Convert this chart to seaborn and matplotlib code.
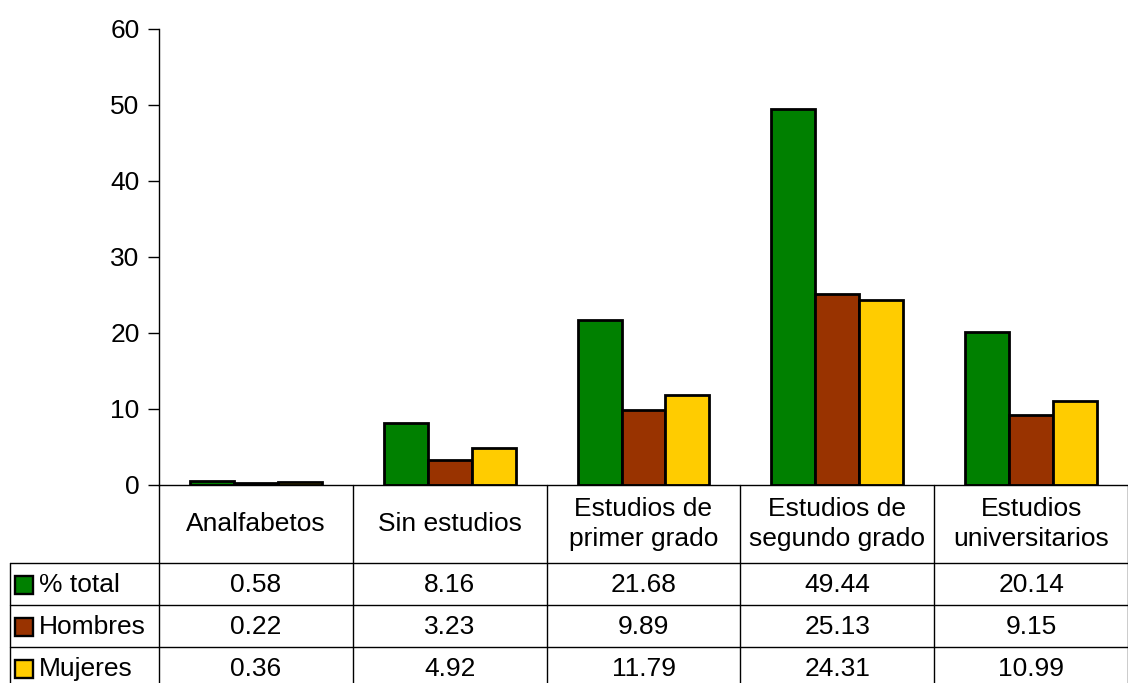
import matplotlib.pyplot as plt
import matplotlib.transforms as mtransforms
from matplotlib.patches import Rectangle
import pandas as pd
import seaborn as sns

# %% Data

CATEGORIES = [
    "Analfabetos",
    "Sin estudios",
    "Estudios de\nprimer grado",
    "Estudios de\nsegundo grado",
    "Estudios\nuniversitarios",
]
SERIES = ["% total", "Hombres", "Mujeres"]
TOTAL = [0.58, 8.16, 21.68, 49.44, 20.14]
HOMBRES = [0.22, 3.23, 9.89, 25.13, 9.15]
MUJERES = [0.36, 4.92, 11.79, 24.31, 10.99]
COLORS = ["#008000", "#993300", "#FFCC00"]

rows = []
for name, vals in zip(SERIES, [TOTAL, HOMBRES, MUJERES]):
    for cat, v in zip(CATEGORIES, vals):
        rows.append({"Nivel": cat, "Serie": name, "Valor": v})
df = pd.DataFrame(rows)

# %% Plot

sns.set_style("white")
plt.rcParams["font.family"] = ["Liberation Sans", "DejaVu Sans"]
plt.rcParams["text.color"] = "black"

FS = 19
W, H = 1128, 683
fig = plt.figure(figsize=(W / 100, H / 100), dpi=100)
ax = fig.add_axes([159 / W, (H - 485) / H, (W - 159) / W, (485 - 29) / H])

sns.barplot(
    data=df,
    x="Nivel",
    y="Valor",
    hue="Serie",
    order=CATEGORIES,
    hue_order=SERIES,
    palette=COLORS,
    edgecolor="black",
    linewidth=2,
    width=0.68,
    gap=0,
    saturation=1,
    ax=ax,
)
ax.legend_.remove()
ax.set_xlim(-0.5, len(CATEGORIES) - 0.5)
ax.set_ylim(0, 60)
ax.set_yticks(range(0, 61, 10))
ax.set_xticks([])
ax.set_xlabel("")
ax.set_ylabel("")
ax.tick_params(axis="y", labelsize=FS, labelcolor="black", color="black",
               length=8, width=1, direction="out", pad=6, left=True)
for side in ["top", "right"]:
    ax.spines[side].set_visible(False)
for side in ["left", "bottom"]:
    ax.spines[side].set_linewidth(1)
    ax.spines[side].set_color("black")

# %% Data table below the axes

trans = mtransforms.blended_transform_factory(ax.transData, fig.transFigure)
fy = lambda px: 1 - px / H
fx = lambda px: px / W

# vertical cell borders at category boundaries
for k in range(len(CATEGORIES) + 1):
    ax.plot([k - 0.5, k - 0.5], [fy(485), 0], color="black", lw=1,
            transform=trans, clip_on=False)

# horizontal row borders
for yl in [563, 605, 647]:
    fig.add_artist(plt.Line2D([fx(10), 1], [fy(yl), fy(yl)], color="black", lw=1))
fig.add_artist(plt.Line2D([fx(10), fx(10)], [fy(563), 0], color="black", lw=1))

# header labels
for i, cat in enumerate(CATEGORIES):
    ax.text(i, fy(524), cat, transform=trans, ha="center", va="center",
            fontsize=FS, linespacing=1.32, color="black")

# values and legend keys
row_centers = [585, 627, 669]
for r, (name, vals, color) in enumerate(zip(SERIES, [TOTAL, HOMBRES, MUJERES], COLORS)):
    yc = row_centers[r]
    fig.add_artist(Rectangle((fx(15), fy(yc + 9)), 18 / W, 18 / H,
                             facecolor=color, edgecolor="black", lw=1.7))
    fig.text(fx(39), fy(yc), name, ha="left", va="center", fontsize=FS, color="black")
    for i, v in enumerate(vals):
        ax.text(i, fy(yc), f"{v:.2f}", transform=trans, ha="center",
                va="center", fontsize=FS, color="black")

plt.savefig("out.png", dpi=100)
